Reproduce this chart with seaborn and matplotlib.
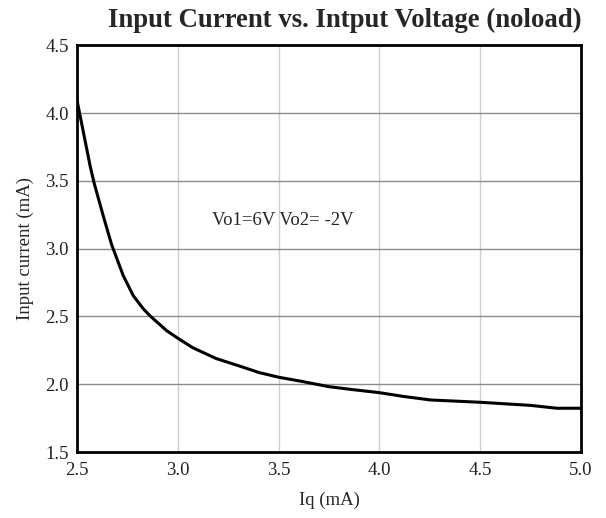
import matplotlib
matplotlib.use('Agg')
import matplotlib.pyplot as plt
import numpy as np
import pandas as pd
import seaborn as sns

# values
iq_ma = [2.5, 2.533, 2.566, 2.586, 2.632, 2.672, 2.73, 2.78, 2.83, 2.863,
         2.946, 3.0, 3.074, 3.19, 3.305, 3.404, 3.5, 3.619, 3.75, 3.87,
         4.0, 4.12, 4.254, 4.5, 4.75, 4.88, 5.0]
input_current_ma = [4.098, 3.852, 3.606, 3.48, 3.234, 3.03, 2.80, 2.652, 2.555, 2.504,
                    2.394, 2.34, 2.27, 2.19, 2.135, 2.086, 2.052, 2.02, 1.982, 1.96,
                    1.938, 1.91, 1.884, 1.867, 1.844, 1.823, 1.823]
x_ticks = [2.5, 3.0, 3.5, 4.0, 4.5, 5.0]
y_ticks = [1.5, 2.0, 2.5, 3.0, 3.5, 4.0, 4.5]

sns.set_style('white')
plt.rcParams['font.family'] = ['Liberation Serif', 'DejaVu Serif']

df = pd.DataFrame({'iq': iq_ma, 'cur': input_current_ma})

fig = plt.figure(figsize=(6.06, 5.18), dpi=100)
ax = fig.add_axes([0.127, 0.1274, 0.8317, 0.7848])

# grid: vertical lines light, horizontal lines darker
for x in x_ticks[1:-1]:
    ax.axvline(x, color='#d0d0d0', lw=1.0, zorder=0)
for y in y_ticks[1:-1]:
    ax.axhline(y, color='#8c8c8c', lw=1.0, zorder=0)

sns.lineplot(data=df, x='iq', y='cur', color='black', lw=2.2, ax=ax)

ax.set_xlim(2.5, 5.0)
ax.set_ylim(1.5, 4.5)
ax.set_xticks(x_ticks)
ax.set_yticks(y_ticks)
ax.set_xticklabels([f'{v:.1f}' for v in x_ticks])
ax.set_yticklabels([f'{v:.1f}' for v in y_ticks])
ax.tick_params(length=0, labelsize=13.5, colors='#222222')
ax.tick_params(axis='x', pad=7)
ax.tick_params(axis='y', pad=6)

for s in ax.spines.values():
    s.set_visible(True)
    s.set_color('black')
    s.set_linewidth(2.0)

ax.set_xlabel('Iq (mA)', fontsize=13.5, labelpad=9)
ax.set_ylabel('Input current (mA)', fontsize=13.5, labelpad=8)
ax.text(3.17, 3.21, 'Vo1=6V Vo2= -2V', fontsize=13.5, va='center', ha='left')

fig.text(0.5685, 0.961, 'Input Current vs. Intput Voltage (noload)',
         fontsize=19.3, fontweight='bold', ha='center', va='center')

fig.savefig('out.png', dpi=100)
